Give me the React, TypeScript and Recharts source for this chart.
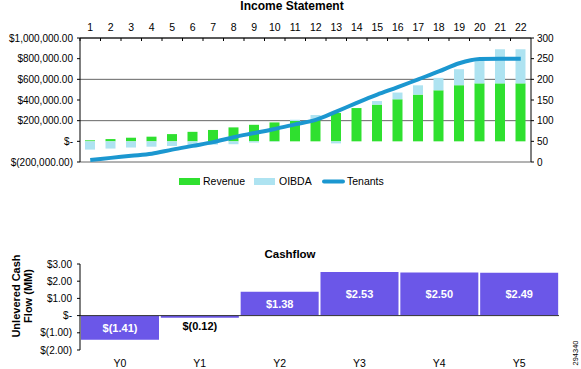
import { Bar, BarChart, CartesianGrid, ComposedChart, LabelList, Line, ReferenceLine, XAxis, YAxis } from 'recharts';

const periods = ['1', '2', '3', '4', '5', '6', '7', '8', '9', '10', '11', '12', '13', '14', '15', '16', '17', '18', '19', '20', '21', '22'];
const revenue = [10000, 22000, 35000, 45000, 70000, 92000, 110000, 135000, 160000, 183000, 197000, 210000, 275000, 322000, 355000, 407000, 452000, 494000, 543000, 561000, 561000, 561000];
const oibda = [-80000, -70000, -60000, -52000, -45000, -35000, -32000, -28000, -12000, -3000, 12000, 45000, -20000, 0, 35000, 65000, 90000, 120000, 155000, 240000, 330000, 330000];
const tenants = [5, 10, 15, 20, 30, 39, 48, 60, 70, 80, 91, 102, 122, 143, 163, 181, 200, 219, 239, 249, 250, 250];
const moneyTicks = [-200000, 0, 200000, 400000, 600000, 800000, 1000000];
const tenantTicks = [0, 50, 100, 150, 200, 250, 300];

const years = ['Y0', 'Y1', 'Y2', 'Y3', 'Y4', 'Y5'];
const cashflow = [-1.41, -0.12, 1.38, 2.53, 2.5, 2.49];
const cashTicks = [-2, -1, 0, 1, 2, 3];

const FONT = '"Liberation Sans", Arial, Helvetica, sans-serif';
const GREEN = '#2fe02f';
const LIGHT_BLUE = '#aee3f1';
const LINE_BLUE = '#1b97d0';
const PURPLE = '#6b57e8';

const incomeData = periods.map((p, i) => ({ period: p, revenue: revenue[i], oibda: oibda[i], tenants: tenants[i] }));
const cashData = years.map((y, i) => ({ year: y, value: cashflow[i] }));

const fmtMoney = (v: number) => {
  if (v === 0) return '$-';
  const s = Math.abs(v).toLocaleString('en-US', { minimumFractionDigits: 2, maximumFractionDigits: 2 });
  return v < 0 ? `$(${s})` : `$${s}`;
};

const fmtCash = (v: number) => {
  if (v === 0) return '$-';
  return v < 0 ? `$(${Math.abs(v).toFixed(2)})` : `$${v.toFixed(2)}`;
};

function PeriodTick(props: any) {
  const { x, y, payload } = props;
  const half = payload?.offset || 10.25;
  return (
    <g>
      <text x={x} y={y - 7} textAnchor="middle" fontSize={10.5} fill="#000" fontFamily={FONT}>
        {payload.value}
      </text>
      <line x1={x - half} x2={x - half} y1={y} y2={y + 3} stroke="#000" />
    </g>
  );
}

function CashLabel(props: any) {
  const { x, y, width, height, value } = props;
  const top = Math.min(y, y + height);
  const h = Math.abs(height);
  if (h < 12) {
    return (
      <text x={x + width / 2} y={top + h + 12} textAnchor="middle" fontSize={11} fontWeight="bold" fill="#000" fontFamily={FONT}>
        {fmtCash(value)}
      </text>
    );
  }
  return (
    <text x={x + width / 2} y={top + h / 2 + 4} textAnchor="middle" fontSize={11} fontWeight="bold" fill="#fff" fontFamily={FONT}>
      {fmtCash(value)}
    </text>
  );
}

export default function App() {
  const tickStyle = { fill: '#000', fontSize: 10, fontFamily: FONT };
  return (
    <div style={{ position: 'absolute', left: 0, top: 0, width: 581, height: 369, background: '#fff', fontFamily: FONT }}>
      <div style={{ position: 'absolute', left: 0, top: 0 }}>
        <ComposedChart width={581} height={170} data={incomeData} margin={{ top: 8, right: 0, left: 8, bottom: 8 }} stackOffset="sign" barSize={10}>
          <CartesianGrid vertical={false} stroke="#666" yAxisId="money" />
          <XAxis
            dataKey="period"
            orientation="top"
            height={30}
            interval={0}
            tickLine={false}
            tickSize={0}
            tickMargin={0}
            axisLine={{ stroke: '#000' }}
            tick={<PeriodTick />}
          />
          <YAxis
            yAxisId="money"
            domain={[-200000, 1000000]}
            ticks={moneyTicks}
            width={72}
            tickSize={3}
            tickMargin={4}
            tickFormatter={fmtMoney}
            tick={tickStyle}
            axisLine={{ stroke: '#000' }}
            tickLine={{ stroke: '#000' }}
          />
          <YAxis
            yAxisId="tenants"
            orientation="right"
            domain={[0, 300]}
            ticks={tenantTicks}
            width={50}
            tickSize={3}
            tickMargin={3}
            tick={tickStyle}
            axisLine={{ stroke: '#000' }}
            tickLine={{ stroke: '#000' }}
          />
          <Bar dataKey="revenue" yAxisId="money" stackId="s" fill={GREEN} isAnimationActive={false} />
          <Bar dataKey="oibda" yAxisId="money" stackId="s" fill={LIGHT_BLUE} isAnimationActive={false} />
          <Line dataKey="tenants" yAxisId="tenants" type="monotone" stroke={LINE_BLUE} strokeWidth={4} dot={false} isAnimationActive={false} />
        </ComposedChart>
      </div>
      <div style={{ position: 'absolute', left: 0, top: 240 }}>
        <BarChart width={581} height={129} data={cashData} margin={{ top: 24, right: 22, left: 8, bottom: 0 }} barCategoryGap={1}>
          <XAxis dataKey="year" height={19} axisLine={false} tickLine={false} tickSize={0} tickMargin={10} tick={{ fill: '#000', fontSize: 10.5, fontFamily: FONT }} />
          <YAxis
            domain={[-2, 3]}
            ticks={cashTicks}
            width={72}
            tickSize={3}
            tickMargin={5}
            tickFormatter={fmtCash}
            tick={tickStyle}
            axisLine={{ stroke: '#000' }}
            tickLine={{ stroke: '#000' }}
          />
          <Bar dataKey="value" fill={PURPLE} isAnimationActive={false}>
            <LabelList dataKey="value" content={<CashLabel />} />
          </Bar>
          <ReferenceLine y={0} stroke="#333" />
        </BarChart>
      </div>
      <svg width={581} height={369} style={{ position: 'absolute', left: 0, top: 0, pointerEvents: 'none' }} fontFamily={FONT}>
        <text x={292} y={10} textAnchor="middle" fontSize={12} fontWeight="bold" fill="#000">Income Statement</text>
        <rect x={179} y={178} width={21} height={7} fill={GREEN} />
        <text x={203} y={185} fontSize={10.5} fill="#000">Revenue</text>
        <rect x={254} y={178} width={21} height={7} fill={LIGHT_BLUE} />
        <text x={279} y={185} fontSize={10.5} fill="#000">OIBDA</text>
        <line x1={324} x2={343} y1={181.5} y2={181.5} stroke={LINE_BLUE} strokeWidth={4} strokeLinecap="round" />
        <text x={347} y={185} fontSize={10.5} fill="#000">Tenants</text>
        <text x={290} y={258} textAnchor="middle" fontSize={11.5} fontWeight="bold" fill="#000">Cashflow</text>
        <text transform="translate(20 296) rotate(-90)" textAnchor="middle" fontSize={11} fontWeight="bold" fill="#000">Unlevered Cash</text>
        <text transform="translate(32 296) rotate(-90)" textAnchor="middle" fontSize={11} fontWeight="bold" fill="#000">Flow (MM)</text>
        <text transform="translate(578 353) rotate(-90)" textAnchor="middle" fontSize={7.5} fill="#000">294340</text>
      </svg>
    </div>
  );
}
